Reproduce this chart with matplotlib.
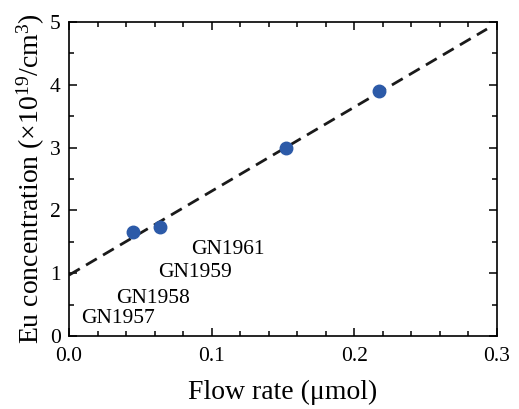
import numpy as np
import matplotlib
matplotlib.use("Agg")
import matplotlib.pyplot as plt
from matplotlib.ticker import MultipleLocator

plt.rcParams["font.family"] = ["Liberation Serif", "DejaVu Serif"]
plt.rcParams["mathtext.fontset"] = "custom"
plt.rcParams["mathtext.rm"] = "Liberation Serif"
plt.rcParams["mathtext.it"] = "Liberation Serif:italic"

# measured samples
flow_rate = [0.045, 0.064, 0.152, 0.217]
eu_conc = [1.65, 1.74, 3.00, 3.90]

# linear fit line
fit_x = [0.0, 0.293]
fit_y = [0.97, 4.89]

# sample labels and where they sit
sample_names = ["GN1957", "GN1958", "GN1959", "GN1961"]
label_x = [0.0345, 0.0586, 0.0883, 0.1117]
label_y = [0.28, 0.60, 1.01, 1.38]

fig = plt.figure(figsize=(5.19, 4.09), dpi=100)
ax = fig.add_axes([0.133, 0.1785, 0.8246, 0.7675])

ax.plot(fit_x, fit_y, color="#1a1a1a", linewidth=2.0, dashes=(4.5, 2.6), zorder=2)
ax.plot(flow_rate, eu_conc, "o", color="#2c5aa8", markersize=9, zorder=3)

for name, lx, ly in zip(sample_names, label_x, label_y):
    ax.text(lx, ly, name, fontsize=15.5, ha="center", va="center")

ax.set_xlim(0, 0.3)
ax.set_ylim(0, 5)
ax.xaxis.set_major_locator(MultipleLocator(0.1))
ax.xaxis.set_minor_locator(MultipleLocator(0.02))
ax.yaxis.set_major_locator(MultipleLocator(1))
ax.yaxis.set_minor_locator(MultipleLocator(0.5))
ax.xaxis.set_major_formatter(matplotlib.ticker.FormatStrFormatter("%.1f"))

ax.tick_params(which="both", direction="in", top=True, right=True,
               labelsize=15.5, width=1.1)
ax.tick_params(which="major", length=6)
ax.tick_params(which="minor", length=3.5)
ax.tick_params(axis="x", which="major", pad=8)
ax.tick_params(axis="y", which="major", pad=6)
for sp in ax.spines.values():
    sp.set_linewidth(1.2)

ax.set_xlabel("Flow rate (\u03bcmol)", fontsize=20, labelpad=10)
ax.set_ylabel("Eu concentration (\u00d710$^{19}$/cm$^{3}$)", fontsize=20, labelpad=2)

plt.savefig("out.png", dpi=100)
